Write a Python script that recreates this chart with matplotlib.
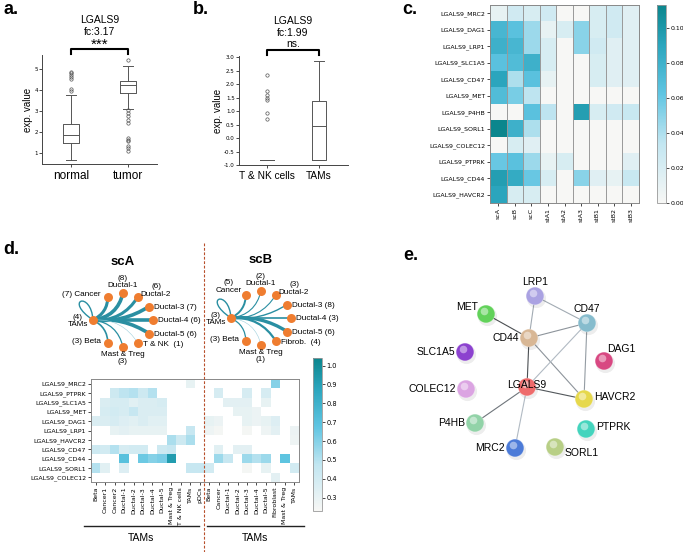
import numpy as np
import matplotlib
matplotlib.use("Agg")
import matplotlib.pyplot as plt
from matplotlib.colors import LinearSegmentedColormap
from matplotlib.patches import FancyArrowPatch, PathPatch
from matplotlib.path import Path
import matplotlib.transforms as mtransforms

plt.rcParams['font.family'] = ['DejaVu Sans']
SANS = 'Liberation Sans'
nan = np.nan

# ---------------- data ----------------
# a. LGALS9 expression, normal vs tumor
a_groups = ['normal', 'tumor']
a_whislo = [0.7, 3.12]
a_q1 = [1.48, 3.87]
a_med = [1.85, 4.22]
a_q3 = [2.4, 4.42]
a_whishi = [3.75, 5.15]
a_fliers = [[3.95, 4.05, 4.5, 4.6, 4.7, 4.8, 4.85],
            [5.4, 3.05, 2.9, 2.75, 2.6, 2.45, 1.75, 1.65, 1.6, 1.35, 1.25, 1.1]]
a_title = ['LGALS9', 'fc:3.17']
a_sig = '***'

# b. LGALS9 expression, T & NK cells vs TAMs
b_groups = ['T & NK cells', 'TAMs']
b_whislo = [-0.82, -0.82]
b_q1 = [-0.82, -0.82]
b_med = [-0.82, 0.45]
b_q3 = [-0.82, 1.37]
b_whishi = [-0.82, 2.85]
b_fliers = [[2.35, 1.75, 1.6, 1.5, 1.4, 0.95, 0.7], []]
b_title = ['LGALS9', 'fc:1.99']
b_sig = 'ns.'

# c. interaction scores per sample
c_rows = ['LGALS9_MRC2', 'LGALS9_DAG1', 'LGALS9_LRP1', 'LGALS9_SLC1A5', 'LGALS9_CD47',
          'LGALS9_MET', 'LGALS9_P4HB', 'LGALS9_SORL1', 'LGALS9_COLEC12', 'LGALS9_PTPRK',
          'LGALS9_CD44', 'LGALS9_HAVCR2']
c_cols = ['scA', 'scB', 'scC', 'stA1', 'stA2', 'stA3', 'stB1', 'stB2', 'stB3']
c_vals = [
    [0.010, 0.025, 0.020, 0.025, 0.000, 0.000, 0.020, 0.025, 0.015],
    [0.075, 0.065, 0.045, 0.010, 0.020, 0.050, 0.020, 0.025, 0.015],
    [0.080, 0.075, 0.045, 0.020, 0.000, 0.050, 0.025, 0.015, 0.015],
    [0.065, 0.070, 0.080, 0.020, 0.000, 0.000, 0.020, 0.015, 0.015],
    [0.090, 0.040, 0.065, 0.010, 0.000, 0.000, 0.020, 0.015, 0.015],
    [0.070, 0.055, 0.035, 0.000, 0.000, 0.000, 0.000, 0.000, 0.000],
    [0.000, 0.000, 0.065, 0.035, 0.000, 0.095, 0.020, 0.025, 0.030],
    [0.113, 0.080, 0.040, 0.000, 0.000, 0.000, 0.000, 0.000, 0.000],
    [0.000, 0.020, 0.015, 0.000, 0.000, 0.000, 0.000, 0.000, 0.000],
    [0.060, 0.065, 0.045, 0.010, 0.020, 0.000, 0.000, 0.000, 0.015],
    [0.095, 0.085, 0.060, 0.020, 0.000, 0.050, 0.015, 0.010, 0.030],
    [0.090, 0.020, 0.020, 0.000, 0.000, 0.000, 0.000, 0.000, 0.000],
]

# d. TAM interaction networks (scA, scB)
scA_names = ['Cancer', 'Ductal-1', 'Ductal-2', 'Ductal-3', 'Ductal-4', 'Ductal-5',
             'T & NK', 'Mast & Treg', 'Beta']
scA_counts = [7, 8, 6, 7, 6, 6, 1, 3, 3]
scA_weights = [2.2, 2.6, 2.2, 2.6, 2.6, 2.6, 0.4, 0.9, 1.2]
scA_tams = 4
scB_names = ['Cancer', 'Ductal-1', 'Ductal-2', 'Ductal-3', 'Ductal-4', 'Ductal-5',
             'Fibrob.', 'Mast & Treg', 'Beta']
scB_counts = [5, 2, 3, 8, 3, 6, 4, 1, 3]
scB_weights = [1.4, 0.8, 0.8, 1.0, 1.2, 2.4, 1.6, 0.4, 0.9]
scB_tams = 3

# d. heatmap of TAM interactions
d_rows = ['LGALS9_MRC2', 'LGALS9_PTPRK', 'LGALS9_SLC1A5', 'LGALS9_MET', 'LGALS9_DAG1',
          'LGALS9_LRP1', 'LGALS9_HAVCR2', 'LGALS9_CD47', 'LGALS9_CD44', 'LGALS9_SORL1',
          'LGALS9_COLEC12']
d_cols = ['Beta', 'Cancer1', 'Cancer2', 'Ductal-1', 'Ductal-2', 'Ductal-3', 'Ductal-4',
          'Ductal-5', 'Mast & Treg', 'T & NK cells', 'TAMs', 'pDCs',
          'Beta', 'Cancer', 'Ductal-1', 'Ductal-2', 'Ductal-3', 'Ductal-4', 'Ductal-5',
          'Fibroblast', 'Mast & Treg', 'TAMs']
d_vals = [
    [nan, nan, nan, nan, nan, nan, nan, nan, nan, nan, 0.30, nan,
     nan, nan, nan, nan, nan, nan, nan, 0.60, nan, nan],
    [nan, nan, 0.42, 0.48, 0.50, 0.42, 0.50, nan, nan, nan, nan, nan,
     nan, 0.38, nan, nan, 0.38, nan, 0.38, nan, nan, nan],
    [nan, 0.36, 0.38, 0.38, 0.33, 0.36, 0.36, 0.38, nan, nan, nan, nan,
     nan, nan, 0.32, 0.32, 0.32, nan, 0.30, nan, nan, nan],
    [nan, 0.38, 0.40, 0.38, 0.45, 0.36, 0.36, 0.36, nan, nan, nan, nan,
     nan, nan, nan, 0.30, 0.30, 0.28, nan, nan, nan, nan],
    [0.36, 0.36, 0.38, 0.35, 0.33, 0.36, 0.33, 0.33, nan, nan, nan, nan,
     0.30, 0.28, nan, nan, 0.30, 0.28, 0.30, 0.35, nan, nan],
    [nan, nan, 0.30, 0.32, 0.30, 0.30, 0.30, 0.30, nan, nan, 0.45, nan,
     0.27, 0.24, nan, nan, 0.24, nan, 0.27, 0.32, nan, 0.28],
    [nan, nan, nan, nan, nan, nan, nan, nan, 0.52, 0.42, 0.52, nan,
     nan, nan, nan, nan, nan, nan, nan, nan, nan, 0.27],
    [0.42, 0.40, 0.50, 0.38, 0.40, 0.40, nan, 0.42, 0.45, nan, nan, nan,
     nan, 0.33, nan, 0.32, 0.32, nan, nan, nan, nan, nan],
    [nan, nan, nan, 0.70, nan, 0.65, 0.60, 0.62, 0.92, nan, nan, nan,
     nan, 0.55, 0.45, nan, 0.55, 0.50, 0.55, nan, 0.68, nan],
    [0.50, 0.33, nan, 0.35, nan, nan, nan, nan, nan, nan, 0.45, 0.45,
     0.40, nan, nan, nan, 0.24, nan, 0.30, nan, nan, 0.40],
    [nan, nan, nan, nan, nan, nan, nan, nan, nan, nan, nan, nan,
     nan, nan, nan, nan, nan, nan, nan, 0.32, nan, nan],
]
d_split = 12          # first 12 columns scA, rest scB
d_group_label = 'TAMs'

# e. STRING protein network
e_nodes = ['LRP1', 'MET', 'CD47', 'CD44', 'SLC1A5', 'DAG1', 'LGALS9', 'COLEC12',
           'HAVCR2', 'P4HB', 'PTPRK', 'MRC2', 'SORL1']
e_edges = [('LRP1', 'CD44', 0.3), ('LRP1', 'CD47', 0.3), ('MET', 'CD44', 0.9),
           ('CD44', 'CD47', 0.45), ('CD44', 'LGALS9', 0.9), ('CD44', 'HAVCR2', 0.45),
           ('CD47', 'LGALS9', 0.2), ('CD47', 'HAVCR2', 0.4), ('LGALS9', 'HAVCR2', 0.85),
           ('LGALS9', 'P4HB', 0.65), ('LGALS9', 'MRC2', 0.2)]

# ---------------- styles / layout ----------------
node_color = {'LRP1': '#aaa2e2', 'MET': '#62d25a', 'CD47': '#86bccd', 'CD44': '#d8b795',
              'SLC1A5': '#8c42cf', 'DAG1': '#d84882', 'LGALS9': '#ee6b6b',
              'COLEC12': '#dba4e2', 'HAVCR2': '#e6d84c', 'P4HB': '#92d3a8',
              'PTPRK': '#44d4bd', 'MRC2': '#4c7bd8', 'SORL1': '#b8cf86'}
# pixel layout of panel e (string-db style placement)
e_pos = {'LRP1': (535, 296), 'MET': (486, 314), 'CD47': (587, 323), 'CD44': (529, 338),
         'SLC1A5': (465, 352), 'DAG1': (604, 361), 'LGALS9': (527, 387),
         'COLEC12': (466, 389), 'HAVCR2': (584, 399), 'P4HB': (475, 423),
         'PTPRK': (586, 429), 'MRC2': (515, 448), 'SORL1': (555, 447)}
e_lab = {'LRP1': 'above', 'MET': 'upleft', 'CD47': 'above', 'CD44': 'left',
         'SLC1A5': 'left', 'DAG1': 'upright', 'LGALS9': 'on', 'COLEC12': 'left',
         'HAVCR2': 'right', 'P4HB': 'left', 'PTPRK': 'right', 'MRC2': 'left',
         'SORL1': 'downright'}

heat = LinearSegmentedColormap.from_list(
    'heat', [(0, '#f7f7f5'), (0.3, '#c2e6f1'), (0.55, '#60c5e2'), (0.8, '#2ba5bd'), (1, '#0b868d')])

W, H = 683, 552
fig = plt.figure(figsize=(W / 100, H / 100), dpi=100)


def px_axes(l, t, r, b):
    return fig.add_axes([l / W, 1 - b / H, (r - l) / W, (b - t) / H])


def box_panel(ax, groups, lo, q1, med, q3, hi, fliers, title, sig, ylim, yticks, xlim):
    stats = [dict(label=g, whislo=lo[i], q1=q1[i], med=med[i], q3=q3[i], whishi=hi[i],
                  fliers=fliers[i]) for i, g in enumerate(groups)]
    gray = '#555555'
    ax.bxp(stats, positions=[1, 2], widths=0.28, capwidths=0.18,
           boxprops=dict(color=gray, lw=0.7), whiskerprops=dict(color=gray, lw=0.7),
           capprops=dict(color=gray, lw=0.7), medianprops=dict(color=gray, lw=0.7),
           flierprops=dict(marker='o', markersize=2.4, mfc='none', mec=gray, mew=0.5))
    ax.set_xlim(*xlim)
    ax.set_ylim(*ylim)
    ax.set_yticks(yticks)
    for s in ['top', 'right']:
        ax.spines[s].set_visible(False)
    for s in ['left', 'bottom']:
        ax.spines[s].set_color('#444444')
        ax.spines[s].set_linewidth(0.7)
    ax.tick_params(axis='y', labelsize=4, length=2, width=0.5, pad=1)
    ax.tick_params(axis='x', length=2, width=0.5, pad=2)
    ax.set_ylabel('exp. value', family=SANS, fontsize=7, labelpad=1)
    # title lines, significance and bracket above the axes (in pixel offsets)
    ax_h = ax.get_position().height * H
    frac = lambda dpx: 1 + dpx / ax_h
    tr = mtransforms.blended_transform_factory(ax.transData, ax.transAxes)
    ax.plot([1, 1, 2, 2], [frac(1.5), frac(6.5), frac(6.5), frac(1.5)], color='black', lw=1.5,
            transform=tr, clip_on=False)
    if sig.startswith('*'):
        ax.text(1.5, frac(6.5), sig, transform=tr, ha='center', va='baseline',
                family=SANS, fontsize=11)
    else:
        ax.text(1.5, frac(12), sig, transform=tr, ha='center', va='center',
                family=SANS, fontsize=7.5)
    ax.text(1.5, frac(23), title[1], transform=tr, ha='center', va='center', family=SANS,
            fontsize=7.5)
    ax.text(1.5, frac(35), title[0], transform=tr, ha='center', va='center', family=SANS,
            fontsize=7.5)


# ---------------- a ----------------
ax_a = px_axes(42, 55, 157, 164)
box_panel(ax_a, a_groups, a_whislo, a_q1, a_med, a_q3, a_whishi, a_fliers, a_title, a_sig,
          (0.5, 5.65), [1, 2, 3, 4, 5], (0.5, 2.5))
for t in ax_a.get_xticklabels():
    t.set_fontsize(8.5)
    t.set_family(SANS)

# ---------------- b ----------------
ax_b = px_axes(239, 56, 348, 165)
box_panel(ax_b, b_groups, b_whislo, b_q1, b_med, b_q3, b_whishi, b_fliers, b_title, b_sig,
          (-1.0, 3.05), np.arange(-1.0, 3.01, 0.5), (0.46, 2.56))
ax_b.yaxis.set_major_formatter(plt.FormatStrFormatter('%.1f'))
for t in ax_b.get_xticklabels():
    t.set_fontsize(7.3)
    t.set_family(SANS)

# ---------------- c ----------------
ax_c = px_axes(490, 5, 639, 203)
im_c = ax_c.imshow(np.array(c_vals), cmap=heat, vmin=0, vmax=0.113, aspect='auto',
                   interpolation='nearest')
ax_c.set_xticks(range(len(c_cols)))
ax_c.set_xticklabels(c_cols, rotation=90, fontsize=4.5)
ax_c.set_yticks(range(len(c_rows)))
ax_c.set_yticklabels(c_rows, fontsize=4.5)
ax_c.tick_params(length=2, width=0.5, pad=1.5)
for x in np.arange(0.5, len(c_cols) - 1, 1):
    ax_c.axvline(x, color='#999999', lw=0.7)
for s in ax_c.spines.values():
    s.set_color('#888888')
    s.set_linewidth(0.7)
cax_c = px_axes(657, 5, 666, 203)
cb_c = fig.colorbar(im_c, cax=cax_c, ticks=np.arange(0, 0.101, 0.02), format='%.2f')
cb_c.ax.tick_params(labelsize=4.5, length=2, width=0.5, pad=1)
cb_c.outline.set_edgecolor('#999999')
cb_c.outline.set_linewidth(0.6)

# ---------------- d heatmap ----------------
ax_d = px_axes(91, 379, 299, 482)
im_d = ax_d.imshow(np.array(d_vals), cmap=heat, vmin=0.23, vmax=1.04, aspect='auto',
                   interpolation='nearest')
ax_d.set_xticks(range(len(d_cols)))
ax_d.set_xticklabels(d_cols, rotation=90, fontsize=4.5)
ax_d.set_yticks(range(len(d_rows)))
ax_d.set_yticklabels(d_rows, fontsize=4.5)
ax_d.tick_params(length=2, width=0.5, pad=1.5)
for s in ax_d.spines.values():
    s.set_color('#888888')
    s.set_linewidth(0.7)
cax_d = px_axes(313, 358, 322, 511)
cb_d = fig.colorbar(im_d, cax=cax_d, ticks=np.arange(0.3, 1.01, 0.1), format='%.1f')
cb_d.ax.tick_params(labelsize=4.8, length=2, width=0.5, pad=1)
cb_d.outline.set_edgecolor('#999999')
cb_d.outline.set_linewidth(0.6)

# ---------------- overlay (networks, labels) ----------------
ov = fig.add_axes([0, 0, 1, 1])
ov.set_xlim(0, W)
ov.set_ylim(H, 0)
ov.axis('off')

for lab, (x, y) in {'a.': (3, 10), 'b.': (193, 10), 'c.': (402, 10),
                    'd.': (3, 250), 'e.': (403, 255)}.items():
    ov.text(x, y, lab, fontsize=13, fontweight='bold', ha='left', va='center', family=SANS)

# dashed split line between scA and scB
x_split = ax_d.transData.transform((d_split - 0.5, 0))
x_split = ov.transData.inverted().transform(x_split)[0]
ov.plot([x_split, x_split], [243, 552], color='#b8502c', lw=0.8, dashes=(2.5, 1.5))

# group brackets below d heatmap
ov.plot([84, 199], [526, 526], color='#222222', lw=1)
ov.plot([207, 304], [526, 526], color='#222222', lw=1)
ov.text(141, 538, d_group_label, ha='center', va='center', family=SANS, fontsize=7.5)
ov.text(255, 538, d_group_label, ha='center', va='center', family=SANS, fontsize=7.5)

TEAL = '#2a8fa2'
ORANGE = '#ef7d30'
RX, RY = 30, 27


def node_label(x, y, name, n, where, fs=5.9):
    kw = dict(family=SANS, fontsize=fs, linespacing=1.05, multialignment='center')
    if where == 'left':
        ov.text(x - 7, y - 2, f'({n}) {name}', ha='right', va='center', **kw)
    elif where == 'tams':
        ov.text(x - 5, y + 1, f'({n})\n{name}', ha='right', va='center', **kw)
    elif where == 'right':
        gap = '  ' if name in ('T & NK', 'Fibrob.') else ' '
        ov.text(x + 5, y + 1, f'{name}{gap}({n})', ha='left', va='center', **kw)
    elif where == 'above':
        ov.text(x, y - 4, f'({n})\n{name}', ha='center', va='bottom', **kw)
    elif where == 'upright':
        ov.text(x + 18, y + 1, f'({n})\n{name}', ha='center', va='bottom', **kw)
    elif where == 'upleft':
        ov.text(x - 17, y - 1, f'({n})\n{name}', ha='center', va='bottom', **kw)
    elif where == 'below':
        ov.text(x, y + 4, f'{name}\n({n})', ha='center', va='top', **kw)


def network(cx, cy, names, counts, weights, tams_n, places, title):
    # TAMs sits at 180 deg of a ring; partner cell types fill 120 .. -120 deg
    ang = np.deg2rad(np.linspace(120, -120, len(names)))
    xs = cx + RX * np.cos(ang)
    ys = cy - RY * np.sin(ang)
    tx, ty = cx - RX, cy
    for i in range(len(names)):
        rad = 0.35 * np.sin(ang[i])
        col = TEAL if weights[i] >= 0.6 else '#9fd0dc'
        ov.add_patch(FancyArrowPatch((tx, ty), (xs[i], ys[i]), arrowstyle='-',
                                     connectionstyle=f'arc3,rad={rad:.3f}',
                                     lw=weights[i], color=col, shrinkA=0, shrinkB=0,
                                     zorder=2))
    loop = Path([(tx, ty), (tx - 30, ty - 20), (tx - 2, ty - 30), (tx, ty)],
                [Path.MOVETO, Path.CURVE4, Path.CURVE4, Path.CURVE4])
    ov.add_patch(PathPatch(loop, fc='none', ec=TEAL, lw=1.0, zorder=2))
    ov.scatter(list(xs) + [tx], list(ys) + [ty], s=42, color=ORANGE, zorder=3, lw=0)
    for i, nm in enumerate(names):
        node_label(xs[i], ys[i], nm, counts[i], places[i])
    node_label(tx, ty, 'TAMs', tams_n, 'tams')
    ov.text(cx, cy - 58, title, ha='center', va='center', fontsize=9.5, fontweight='bold',
            family=SANS)


network(123, 320, scA_names, scA_counts, scA_weights, scA_tams,
        ['left', 'above', 'upright', 'right', 'right', 'right', 'right', 'below', 'left'], 'scA')
network(261, 318, scB_names, scB_counts, scB_weights, scB_tams,
        ['upleft', 'above', 'upright', 'right', 'right', 'right', 'right', 'below', 'left'], 'scB')

# ---------------- e ----------------
for a, b, w in e_edges:
    (x1, y1), (x2, y2) = e_pos[a], e_pos[b]
    shade = 0.85 - 0.6 * w
    ov.plot([x1, x2], [y1, y2], color=(shade * 0.95, shade, min(1, shade * 1.05)),
            lw=0.8, zorder=2)
ex = np.array([e_pos[n][0] for n in e_nodes])
ey = np.array([e_pos[n][1] for n in e_nodes])
ov.scatter(ex + 1, ey + 2, s=190, color='#000000', alpha=0.07, lw=0, zorder=3)
ov.scatter(ex, ey, s=165, c=[node_color[n] for n in e_nodes], lw=0.4,
           edgecolors='#ffffff80', zorder=4)
ov.scatter(ex - 2, ey - 3.5, s=30, color='white', alpha=0.45, lw=0, zorder=5)
for n in e_nodes:
    x, y = e_pos[n]
    where = e_lab[n]
    kw = dict(family=SANS, fontsize=7.5, zorder=6)
    if where == 'above':
        ov.text(x, y - 9, n, ha='center', va='bottom', **kw)
    elif where == 'left':
        ov.text(x - 10, y, n, ha='right', va='center', **kw)
    elif where == 'upleft':
        ov.text(x - 8, y - 7, n, ha='right', va='center', **kw)
    elif where == 'right':
        ov.text(x + 10, y - 2, n, ha='left', va='center', **kw)
    elif where == 'upright':
        ov.text(x + 3, y - 12, n, ha='left', va='center', **kw)
    elif where == 'downright':
        ov.text(x + 10, y + 6, n, ha='left', va='center', **kw)
    elif where == 'on':
        ov.text(x, y - 2, n, ha='center', va='center', **kw)

fig.savefig('out.png', dpi=100)
